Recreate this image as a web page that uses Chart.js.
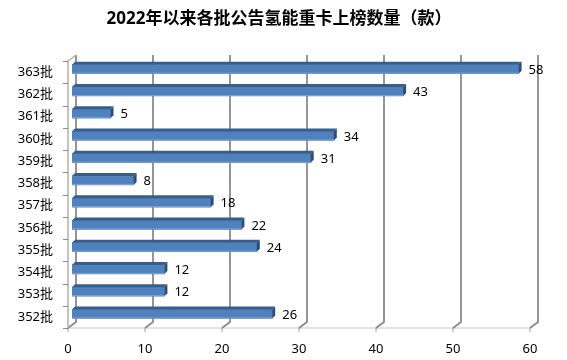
<!DOCTYPE html>
<html>
<head>
<meta charset="utf-8">
<script src="https://cdn.jsdelivr.net/npm/chart.js@4"></script>
<style>
  body { margin: 0; background: #fff; }
  #wrap { width: 567px; height: 360px; }
</style>
</head>
<body>
<div id="wrap"><canvas id="myChart"></canvas></div>
<script>
const titleText = '2022年以来各批公告氢能重卡上榜数量（款）';
const batches = ['363批', '362批', '361批', '360批', '359批', '358批', '357批', '356批', '355批', '354批', '353批', '352批'];
const counts  = [58, 43, 5, 34, 31, 8, 18, 22, 24, 12, 12, 26];
const xTicks  = [0, 10, 20, 30, 40, 50, 60];

const FONT = '"Noto Sans", "Noto Sans CJK SC", sans-serif';

// depth of the walls and of the bars (excel style 3d look)
const WALL_DX = 8, WALL_DY = -6;
const BAR_DX = 4, BAR_DY = -3;
const SIDE = 3;

// title sits a bit right of the canvas centre, like in the original
const titlePlugin = {
    id: 'titleText',
    afterDraw(chart) {
        const ctx = chart.ctx;
        ctx.save();
        ctx.fillStyle = '#000';
        ctx.font = 'bold 17px ' + FONT;
        ctx.textAlign = 'center';
        ctx.textBaseline = 'middle';
        ctx.fillText(titleText, 279, 19);
        ctx.restore();
    }
};

const walls3d = {
    id: 'walls3d',
    beforeDatasetsDraw(chart) {
        const ctx = chart.ctx;
        const xs = chart.scales.x;
        const top = chart.chartArea.top, bottom = chart.chartArea.bottom;
        const left = xs.getPixelForValue(0);
        ctx.save();

        // floor outline
        ctx.strokeStyle = '#c8c8c8';
        ctx.lineWidth = 1;
        ctx.beginPath();
        ctx.moveTo(left, bottom);
        ctx.lineTo(xs.getPixelForValue(60), bottom);
        ctx.lineTo(xs.getPixelForValue(60) + WALL_DX, bottom + WALL_DY);
        ctx.stroke();

        // back wall grid lines + floor slants + ticks
        xTicks.forEach(v => {
            const x = xs.getPixelForValue(v);
            ctx.strokeStyle = '#8a8a8a';
            ctx.lineWidth = 1.8;
            ctx.beginPath();
            ctx.moveTo(x + WALL_DX, top + WALL_DY);
            ctx.lineTo(x + WALL_DX, bottom + WALL_DY);
            ctx.lineTo(x, bottom);
            ctx.stroke();
            ctx.strokeStyle = '#9a9a9a';
            ctx.lineWidth = 1;
            ctx.beginPath();
            ctx.moveTo(x, bottom);
            ctx.lineTo(x, bottom + 4);
            ctx.stroke();
        });

        // side wall (category axis)
        ctx.strokeStyle = '#b0b0b0';
        ctx.lineWidth = 1.5;
        ctx.beginPath();
        ctx.moveTo(left, bottom);
        ctx.lineTo(left, top);
        ctx.lineTo(left + WALL_DX, top + WALL_DY);
        ctx.stroke();
        ctx.strokeStyle = '#8c8c8c';
        ctx.lineWidth = 1;
        const band = (bottom - top) / batches.length;
        for (let i = 0; i <= batches.length; i++) {
            const y = Math.round(top + i * band) + 0.5;
            ctx.beginPath();
            ctx.moveTo(left - 5, y);
            ctx.lineTo(left, y);
            ctx.stroke();
        }
        ctx.restore();

        // bars sit in the middle of the depth
        ctx.save();
        ctx.translate(BAR_DX, BAR_DY);
    },
    afterDatasetsDraw(chart) {
        const ctx = chart.ctx;
        const meta = chart.getDatasetMeta(0);
        meta.data.forEach((bar, i) => {
            const x = bar.x, base = bar.base;
            const t = bar.y - bar.height / 2, b = bar.y + bar.height / 2;
            // top face
            ctx.fillStyle = '#385d8a';
            ctx.beginPath();
            ctx.moveTo(base, t);
            ctx.lineTo(x, t);
            ctx.lineTo(x + SIDE, t - SIDE);
            ctx.lineTo(base + SIDE, t - SIDE);
            ctx.closePath();
            ctx.fill();
            // right face
            ctx.fillStyle = '#2c4d75';
            ctx.beginPath();
            ctx.moveTo(x, t);
            ctx.lineTo(x + SIDE, t - SIDE);
            ctx.lineTo(x + SIDE, b - SIDE);
            ctx.lineTo(x, b);
            ctx.closePath();
            ctx.fill();
            // light bottom edge
            ctx.strokeStyle = '#7ea3d2';
            ctx.lineWidth = 1;
            ctx.beginPath();
            ctx.moveTo(base, b - 0.5);
            ctx.lineTo(x, b - 0.5);
            ctx.stroke();
            // value label
            ctx.fillStyle = '#000';
            ctx.font = '13px ' + FONT;
            ctx.textAlign = 'left';
            ctx.textBaseline = 'middle';
            ctx.fillText(String(counts[i]), x + SIDE + 7, bar.y + 1);
        });
        ctx.restore();
    }
};

let myChart = new Chart(document.getElementById('myChart').getContext('2d'), {
    type: 'bar',
    data: {
        labels: batches,
        datasets: [{
            data: counts,
            backgroundColor: '#4f81bd',
            borderWidth: 0,
            barThickness: 9
        }]
    },
    options: {
        indexAxis: 'y',
        responsive: true,
        maintainAspectRatio: false,
        animation: false,
        layout: { padding: { left: 0, right: 37, top: 61, bottom: 0 } },
        plugins: {
            legend: { display: false },
            tooltip: { enabled: false },
            title: { display: false }
        },
        scales: {
            x: {
                min: 0,
                max: 60,
                afterBuildTicks: s => { s.ticks = xTicks.map(v => ({ value: v })); },
                grid: { display: false, drawTicks: false },
                border: { display: false },
                ticks: { color: '#000', padding: 13, maxRotation: 0, font: { size: 13, family: FONT } },
                afterFit: s => { s.height = 32; }
            },
            y: {
                grid: { display: false, drawTicks: false },
                border: { display: false },
                ticks: { color: '#000', padding: 15, font: { size: 13, family: FONT } },
                afterFit: s => { s.width = 68; }
            }
        }
    },
    plugins: [walls3d, titlePlugin]
});
</script>
</body>
</html>
